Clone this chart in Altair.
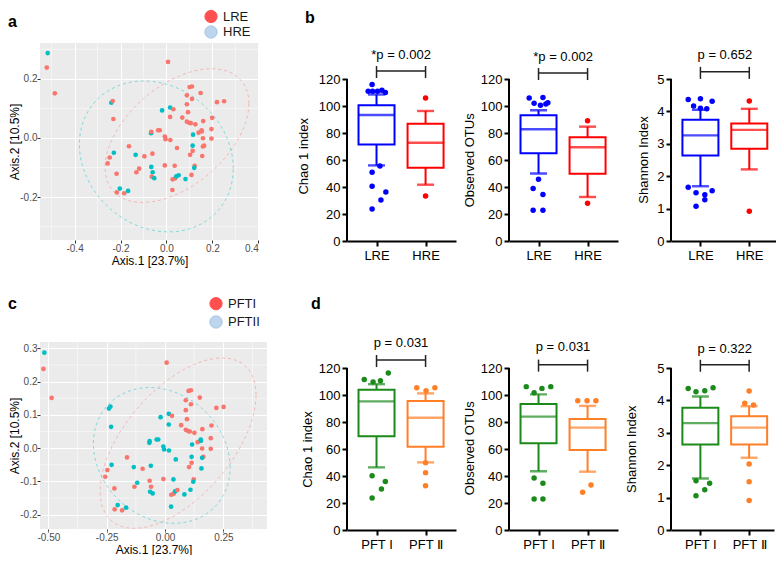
import altair as alt
import numpy as np
import pandas as pd

FONT = "Liberation Sans"

# ---------------- PCoA ordination (shared by panels a and c) ----------------
axis1 = [-0.517, -0.521, -0.486, 0.007, -0.240, -0.234, -0.231, -0.229, -0.247, -0.256,
         -0.217, -0.203, -0.216, -0.184, -0.167, -0.163, -0.134, -0.096, -0.119, -0.131,
         -0.067, -0.066, -0.036, -0.029, -0.061, -0.066, -0.060, -0.064, -0.053, -0.019,
         0.016, 0.030, 0.016, -0.007, -0.004, 0.017, 0.046, -0.007, 0.036, 0.027,
         0.037, 0.043, 0.053, 0.026, 0.083, 0.109, 0.069, 0.089, 0.101, 0.111,
         0.111, 0.089, 0.094, 0.089, 0.100, 0.106, 0.126, 0.149, 0.220, 0.251,
         0.160, 0.199, 0.116, 0.140, 0.153, 0.154, 0.159, 0.196, 0.196, 0.114,
         0.114, 0.103, 0.164, 0.159, 0.156, 0.123, 0.121]
axis2 = [0.287, 0.238, 0.151, 0.257, 0.119, 0.125, 0.064, -0.050, -0.066, -0.086,
         -0.121, -0.171, -0.184, -0.187, -0.179, -0.028, -0.057, -0.062, -0.104, -0.116,
         0.016, 0.021, 0.026, 0.026, -0.053, -0.098, -0.116, -0.131, -0.136, 0.093,
         0.103, 0.097, 0.071, 0.005, -0.004, -0.007, -0.034, -0.093, -0.094, -0.140,
         -0.137, -0.130, -0.126, -0.176, -0.139, -0.125, 0.069, 0.144, 0.172, 0.174,
         0.132, 0.114, 0.087, 0.055, 0.051, 0.050, 0.046, 0.152, 0.121, 0.124,
         0.057, 0.068, 0.011, 0.018, 0.026, 0.022, -0.001, 0.030, -0.002, -0.026,
         -0.044, -0.057, -0.026, -0.029, -0.061, -0.094, -0.101]
risk_code = ("HLLLHLLHLL" "LHLLHLHLLL" "HLLLLHHLHH" "HLLLLLLLLL"
             "LHHLHLLLLL" "LLLLLLLLLL" "LLHLLLLLLH" "LLLLLLH")
pft_code = ("2111222211" "1211212121" "2222211222" "2122222121"
            "1212221111" "1111111111" "1121221112" "1112212")
group_risk = ["LRE" if ch == "L" else "HRE" for ch in risk_code]
group_pft = ["PFTI" if ch == "1" else "PFTII" for ch in pft_code]

# ellipse parameters: centre x, centre y, half-width, half-height, correlation
ellipse_risk = {"LRE": (0.046, 0.008, 0.313, 0.226, 0.48),
                "HRE": (-0.044, -0.0625, 0.335, 0.255, -0.16)}
ellipse_pft = {"PFTI": (0.056, 0.015, 0.334, 0.256, 0.565),
               "PFTII": (-0.014, -0.022, 0.293, 0.204, -0.175)}

# ---------------- alpha diversity box plots ----------------
risk_labels = ["LRE", "HRE"]
risk_colors = ["#0000FF", "#FF0000"]
pft_labels = ["PFT I", "PFT \u2161"]
pft_colors = ["#1B8A1B", "#FF7F27"]

# stats per group: [whisker low, Q1, median, Q3, whisker high]
chao_risk = [[56.0, 71.4, 93.3, 100.5, 108.5], [41.7, 54.3, 72.8, 86.9, 96.3]]
chao_risk_dot_grp = [0] * 12 + [1] * 2
chao_risk_dot_off = [-0.09, -0.17, -0.08, 0.02, 0.11, 0.18, 0.07, -0.09, -0.09, 0.19, 0.09, -0.09, 0, 0]
chao_risk_dot_val = [116, 111, 111, 111, 111.6, 110, 55.5, 51, 40.5, 36.3, 30.4, 23.7, 105.9, 33.3]

otu_risk = [[50.0, 65.0, 82.8, 93.1, 96.8], [32.6, 49.9, 69.4, 76.8, 84.7]]
otu_risk_dot_grp = [0] * 11 + [1] * 2
otu_risk_dot_off = [-0.19, 0.09, -0.09, 0.04, 0.15, 0.19, 0, -0.11, 0.09, -0.11, 0.09, 0, 0]
otu_risk_dot_val = [106, 106.3, 102, 100.5, 101.5, 102.5, 45.8, 38.9, 34.5, 22.7, 22.7, 89.1, 27.9]

shan_risk = [[1.69, 2.64, 3.26, 3.74, 4.05], [2.21, 2.85, 3.43, 3.63, 4.08]]
shan_risk_dot_grp = [0] * 12 + [1] * 2
shan_risk_dot_off = [-0.25, 0, 0.24, -0.14, 0, 0.13, -0.25, -0.09, 0.09, 0.24, 0.09, -0.09, 0, 0]
shan_risk_dot_val = [4.37, 4.39, 4.31, 4.17, 4.10, 4.08, 1.66, 1.49, 1.43, 1.55, 1.27, 1.07, 4.32, 0.92]

chao_pft = [[46.4, 69.4, 95.3, 103.9, 108.0], [50.1, 61.7, 83.2, 95.6, 101.2]]
chao_pft_dot_grp = [0] * 8 + [1] * 6
chao_pft_dot_off = [-0.25, -0.07, 0.08, 0.24, -0.09, 0.18, 0.10, -0.09, -0.18, 0.01, 0.19, 0, 0, 0]
chao_pft_dot_val = [111.4, 109.6, 110.6, 116.3, 40.2, 36, 30.4, 23.7, 105.4, 103.2, 105.4, 49.9, 42.5, 32.8]

otu_pft = [[43.5, 64.2, 84.0, 93.3, 100.5], [43.2, 59.3, 75.8, 82.2, 91.9]]
otu_pft_dot_grp = [0] * 8 + [1] * 5
otu_pft_dot_off = [-0.25, -0.09, 0.07, 0.25, -0.09, 0.09, -0.09, 0.09, -0.2, -0.01, 0.17, 0.07, -0.1]
otu_pft_dot_val = [106.2, 101.7, 104.9, 106.2, 38.5, 34.6, 23, 23, 95.8, 95.8, 95.8, 33.3, 27.9]

shan_pft = [[1.59, 2.64, 3.30, 3.77, 4.12], [2.23, 2.64, 3.16, 3.51, 3.82]]
shan_pft_dot_grp = [0] * 8 + [1] * 6
shan_pft_dot_off = [-0.25, -0.09, 0.09, 0.26, -0.09, 0.19, 0.09, -0.09, 0, -0.09, 0.09, 0, 0, 0]
shan_pft_dot_val = [4.37, 4.27, 4.30, 4.39, 1.52, 1.44, 1.24, 1.06, 4.29, 3.91, 3.86, 2.04, 1.49, 0.91]

RED, TEAL = "#F8766D", "#00BFC4"
LEG_FILL = ["#FF4F4F", "#BDD6EE"]
LEG_STROKE = ["#FF4F4F", "#9EC2E6"]


def ellipse_frame(params, n=140):
    t = np.linspace(0, 2 * np.pi, n)
    frames = []
    for g, (cx, cy, sx, sy, r) in params.items():
        frames.append(pd.DataFrame({
            "x": cx + sx * np.cos(t),
            "y": cy + sy * (r * np.cos(t) + np.sqrt(1 - r * r) * np.sin(t)),
            "g": g, "i": np.arange(n)}))
    return pd.concat(frames, ignore_index=True)


def scatter_panel(groups, cats, ell, xdom, ydom, w, h, xticks, xminor, yticks, yminor,
                  xdec, ydec, letter, letter_xy, legend_xy, legend_dy, title_y):
    pts = pd.DataFrame({"x": axis1, "y": axis2, "g": groups})
    xs = alt.Scale(domain=xdom, nice=False, zero=False)
    ys = alt.Scale(domain=ydom, nice=False, zero=False)
    col = alt.Color("g:N", scale=alt.Scale(domain=cats, range=[RED, TEAL]), legend=None)
    common = dict(grid=True, gridColor="white", gridWidth=1.1, domain=False,
                  tickColor="#333333", tickSize=3, tickWidth=1,
                  labelColor="#4D4D4D", labelFont=FONT, labelFontSize=10, labelPadding=0,
                  titleFont=FONT, titleFontSize=12, titleFontWeight="normal", titleColor="black")
    xax = alt.Axis(values=xticks, title="Axis.1   [23.7%]", titleY=title_y,
                   labelExpr=f"(datum.value < 0 ? '-' : '') + format(abs(datum.value), '.{xdec}f')",
                   **common)
    yax = alt.Axis(values=yticks, title="Axis.2   [10.5%]", titleX=-19,
                   labelExpr=f"(datum.value < 0 ? '-' : '') + format(abs(datum.value), '.{ydec}f')",
                   **common)
    X = lambda f: alt.X(f"{f}:Q", scale=xs, axis=xax)
    Y = lambda f: alt.Y(f"{f}:Q", scale=ys, axis=yax)

    mx = alt.Chart(pd.DataFrame({"v": xminor})).mark_rule(color="white", strokeWidth=0.5).encode(x=X("v"))
    my = alt.Chart(pd.DataFrame({"v": yminor})).mark_rule(color="white", strokeWidth=0.5).encode(y=Y("v"))
    el = alt.Chart(ellipse_frame(ell)).mark_line(strokeDash=[3, 3], strokeWidth=1, opacity=0.45).encode(
        x=X("x"), y=Y("y"), color=col, detail="g:N", order="i:Q")
    pt = alt.Chart(pts).mark_circle(size=22, opacity=1).encode(x=X("x"), y=Y("y"), color=col)

    layers = [mx, my, el, pt]
    lx, ly = legend_xy
    for i, lab in enumerate(cats):
        d = pd.DataFrame({"t": [lab]})
        layers.append(alt.Chart(d).mark_point(shape="circle", filled=True, size=150, opacity=1,
                                              fill=LEG_FILL[i], stroke=LEG_STROKE[i], strokeWidth=1).encode(
            x=alt.value(lx), y=alt.value(ly + i * legend_dy)))
        layers.append(alt.Chart(d).mark_text(font=FONT, fontSize=13, align="left", baseline="middle",
                                             color="#1a1a1a").encode(
            x=alt.value(lx + 12), y=alt.value(ly + i * legend_dy), text="t:N"))
    layers.append(alt.Chart(pd.DataFrame({"t": [letter]})).mark_text(
        font=FONT, fontSize=16, fontWeight="bold", align="left", baseline="alphabetic", color="black").encode(
        x=alt.value(letter_xy[0]), y=alt.value(letter_xy[1]), text="t:N"))
    return alt.layer(*layers).properties(
        width=w, height=h, view=alt.ViewBackground(fill="#EBEBEB", strokeWidth=0))


def box_panel(labels, colors, stats, dgrp, doff, dval, ytop, ystep, ydmax, w, h,
              ytitle, tx, ty, ptxt, p_text_y, p_line_y, letter=None, letter_xy=None):
    xs = alt.Scale(domain=[0.5, 0.5 + w / 54.0], nice=False, zero=False)
    ys = alt.Scale(domain=[0, ydmax], nice=False, zero=False)
    k = h / ydmax
    xax = alt.Axis(values=[1, 2], labelExpr=f"datum.value == 1 ? '{labels[0]}' : '{labels[1]}'",
                   title=None, grid=False, domainColor="black", domainWidth=2,
                   tickColor="black", tickWidth=2, tickSize=5, labelFont=FONT, labelFontSize=13,
                   labelColor="black", labelPadding=3, labelAngle=0)
    yax = alt.Axis(values=list(range(0, ytop + 1, ystep)), title=ytitle,
                   titleX=tx + 5, titleY=ty, titleFont=FONT, titleFontSize=13,
                   titleFontWeight="normal", titleColor="black", domain=False, grid=False,
                   tickColor="black", tickWidth=2, tickSize=5, labelFont=FONT,
                   labelFontSize=13, labelColor="black", labelPadding=2)
    box = pd.DataFrame({"pos": [1, 2],
                        "lo": [s[0] for s in stats], "q1": [s[1] for s in stats],
                        "med": [s[2] for s in stats], "q3": [s[3] for s in stats],
                        "hi": [s[4] for s in stats], "c": colors})
    dots = pd.DataFrame({"xp": [g + 1 + o for g, o in zip(dgrp, doff)], "val": dval,
                         "c": [colors[g] for g in dgrp]})
    col = alt.Color("c:N", scale=None)
    X = lambda f: alt.X(f"{f}:Q", scale=xs, axis=xax)
    Y = lambda f: alt.Y(f"{f}:Q", scale=ys, axis=yax)
    XD = lambda v: alt.XDatum(v, type="quantitative", scale=xs, axis=xax)
    YD = lambda v: alt.YDatum(v, type="quantitative", scale=ys, axis=yax)

    one = pd.DataFrame({"p": [ptxt]})
    end_lo, end_hi = p_line_y - 7 / k, p_line_y + 5 / k
    layers = [
        alt.Chart(box).mark_rule(strokeWidth=2).encode(x=X("pos"), y=Y("q3"), y2="hi", color=col),
        alt.Chart(box).mark_rule(strokeWidth=2).encode(x=X("pos"), y=Y("lo"), y2="q1", color=col),
        alt.Chart(box).mark_bar(size=36, fill="white", strokeWidth=2).encode(
            x=X("pos"), y=Y("q1"), y2="q3", stroke=alt.Stroke("c:N", scale=None)),
        alt.Chart(box).mark_tick(orient="horizontal", size=17, thickness=2.4).encode(
            x=X("pos"), y=Y("hi"), color=col),
        alt.Chart(box).mark_tick(orient="horizontal", size=17, thickness=2.4).encode(
            x=X("pos"), y=Y("lo"), color=col),
        alt.Chart(box).mark_tick(orient="horizontal", size=36, thickness=2.4).encode(
            x=X("pos"), y=Y("med"), color=col),
        alt.Chart(dots).mark_circle(size=30, opacity=1).encode(x=X("xp"), y=Y("val"), color=col),
        alt.Chart(one).mark_rule(strokeWidth=2, color="black").encode(
            x=alt.value(0), y=YD(0), y2=alt.Y2Datum(ytop)),
        alt.Chart(one).mark_rule(strokeWidth=1.5, color="#222222").encode(
            x=XD(1), x2=alt.X2Datum(2), y=YD(p_line_y)),
        alt.Chart(one).mark_rule(strokeWidth=1.5, color="#222222").encode(
            x=XD(1), y=YD(end_lo), y2=alt.Y2Datum(end_hi)),
        alt.Chart(one).mark_rule(strokeWidth=1.5, color="#222222").encode(
            x=XD(2), y=YD(end_lo), y2=alt.Y2Datum(end_hi)),
        alt.Chart(one).mark_text(font=FONT, fontSize=13, color="black", baseline="middle").encode(
            x=XD(1.5), y=YD(p_text_y), text="p:N"),
    ]
    if letter:
        layers.append(alt.Chart(pd.DataFrame({"t": [letter]})).mark_text(
            font=FONT, fontSize=16, fontWeight="bold", align="left", baseline="alphabetic",
            color="black").encode(x=alt.value(letter_xy[0]), y=alt.value(letter_xy[1]), text="t:N"))
    return alt.layer(*layers).properties(width=w, height=h)


H1, H2 = 198, 188
panel_a = scatter_panel(group_risk, ["LRE", "HRE"], ellipse_risk, [-0.5505, 0.403], [-0.345, 0.321],
                        219, 197, [-0.4, -0.2, 0, 0.2, 0.4], [-0.5, -0.3, -0.1, 0.1, 0.3],
                        [-0.2, 0, 0.2], [-0.3, -0.1, 0.1, 0.3], 1, 1,
                        "a", (-32, -16), (171, -26.5), 15.5, 15)
panel_c = scatter_panel(group_pft, ["PFTI", "PFTII"], ellipse_pft, [-0.5358, 0.437], [-0.243, 0.319],
                        227, 187, [-0.5, -0.25, 0, 0.25], [-0.375, -0.125, 0.125, 0.375],
                        [-0.2, -0.1, 0, 0.1, 0.2, 0.3], [-0.25, -0.15, -0.05, 0.05, 0.15, 0.25],
                        2, 1, "c", (-32, -33), (176, -38.3), 18.3, 15)

b1 = box_panel(risk_labels, risk_colors, chao_risk, chao_risk_dot_grp, chao_risk_dot_off, chao_risk_dot_val,
               120, 20, H1 / 1.35, 109, H1, "Chao 1 index", -42, 112.8, "*p = 0.002", 137.8, 125.9,
               "b", (-42, -20))
b2 = box_panel(risk_labels, risk_colors, otu_risk, otu_risk_dot_grp, otu_risk_dot_off, otu_risk_dot_val,
               120, 20, H1 / 1.35, 109, H1, "Observed OTUs", -38, 116.8, "*p = 0.002", 136.3, 124.4)
b3 = box_panel(risk_labels, risk_colors, shan_risk, shan_risk_dot_grp, shan_risk_dot_off, shan_risk_dot_val,
               5, 1, H1 / 32.4, 105, H1, "Shannon Index", -26, 116.5, "p = 0.652", 5.74, 5.22)
d1 = box_panel(pft_labels, pft_colors, chao_pft, chao_pft_dot_grp, chao_pft_dot_off, chao_pft_dot_val,
               120, 20, H2 / 1.35, 109, H2, "Chao 1 index", -38, 107, "p = 0.031", 138.5, 125.9,
               "d", (-36, -32.7))
d2 = box_panel(pft_labels, pft_colors, otu_pft, otu_pft_dot_grp, otu_pft_dot_off, otu_pft_dot_val,
               120, 20, H2 / 1.35, 109, H2, "Observed OTUs", -38, 105.7, "p = 0.031", 135.3, 122.5)
d3 = box_panel(pft_labels, pft_colors, shan_pft, shan_pft_dot_grp, shan_pft_dot_off, shan_pft_dot_val,
               5, 1, H2 / 32.4, 103, H2, "Shannon Index", -38, 106.7, "p = 0.322", 5.59, 5.10)

col_a = alt.vconcat(panel_a, panel_c, spacing=102, bounds="flush")
col_1 = alt.vconcat(b1, d1, spacing=101, bounds="flush")
col_2 = alt.vconcat(b2, d2, spacing=101, bounds="flush")
col_3 = alt.vconcat(b3, d3, spacing=101, bounds="flush")
chart = alt.hconcat(col_a, alt.hconcat(col_1, col_2, col_3, spacing=162, bounds="flush"),
                    spacing=307, bounds="flush").configure_view(
    strokeWidth=0).properties(padding=0, background="white")

chart.save("out.html", embed_options={"renderer": "svg", "actions": False})
